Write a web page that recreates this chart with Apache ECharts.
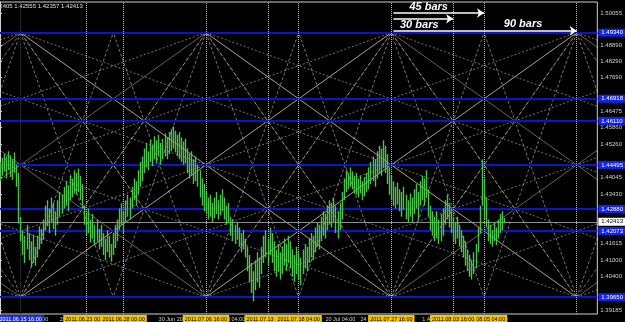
<!DOCTYPE html>
<html>
<head>
<meta charset="utf-8">
<script src="https://cdn.jsdelivr.net/npm/echarts@6/dist/echarts.min.js"></script>
<style>
  html, body { margin: 0; background: #000; }
  #gann { width: 625px; height: 322px; }
</style>
</head>
<body>
<div id="gann"></div>
<script>
// EURUSD H4 bars, high / low per bar
const highs = [
  1.4460,1.4475,1.4490,1.4480,1.4500,1.4485,1.4470,1.4495,1.4450,1.4420,
  1.4260,1.4210,1.4190,1.4230,1.4200,1.4170,1.4195,1.4150,1.4190,1.4225,
  1.4215,1.4250,1.4300,1.4320,1.4290,1.4330,1.4310,1.4280,1.4320,1.4350,
  1.4340,1.4370,1.4390,1.4375,1.4410,1.4400,1.4430,1.4420,1.4436,1.4410,
  1.4380,1.4300,1.4270,1.4290,1.4250,1.4270,1.4230,1.4250,1.4215,1.4230,
  1.4200,1.4180,1.4210,1.4190,1.4160,1.4200,1.4230,1.4250,1.4290,1.4310,
  1.4280,1.4320,1.4340,1.4330,1.4370,1.4400,1.4390,1.4430,1.4460,1.4480,
  1.4510,1.4530,1.4500,1.4540,1.4520,1.4555,1.4540,1.4560,1.4530,1.4545,
  1.4565,1.4550,1.4570,1.4580,1.4590,1.4575,1.4560,1.4570,1.4550,1.4535,
  1.4545,1.4510,1.4490,1.4500,1.4470,1.4480,1.4450,1.4430,1.4400,1.4380,
  1.4350,1.4330,1.4340,1.4310,1.4330,1.4350,1.4320,1.4340,1.4360,1.4330,
  1.4300,1.4310,1.4260,1.4250,1.4230,1.4240,1.4220,1.4200,1.4210,1.4180,
  1.4150,1.4120,1.4090,1.4060,1.4100,1.4130,1.4110,1.4150,1.4190,1.4210,
  1.4180,1.4220,1.4200,1.4170,1.4140,1.4160,1.4130,1.4150,1.4180,1.4160,
  1.4190,1.4170,1.4140,1.4120,1.4150,1.4130,1.4110,1.4140,1.4160,1.4150,
  1.4180,1.4200,1.4190,1.4220,1.4240,1.4230,1.4260,1.4280,1.4270,1.4300,
  1.4320,1.4310,1.4330,1.4300,1.4280,1.4310,1.4350,1.4400,1.4430,1.4420,
  1.4440,1.4425,1.4410,1.4420,1.4400,1.4410,1.4390,1.4405,1.4420,1.4440,
  1.4460,1.4480,1.4470,1.4500,1.4520,1.4510,1.4540,1.4520,1.4490,1.4440,
  1.4410,1.4390,1.4370,1.4385,1.4360,1.4350,1.4370,1.4340,1.4320,1.4345,
  1.4330,1.4360,1.4380,1.4350,1.4390,1.4410,1.4400,1.4430,1.4360,1.4300,
  1.4280,1.4260,1.4280,1.4250,1.4270,1.4290,1.4320,1.4340,1.4310,1.4290,
  1.4260,1.4240,1.4260,1.4230,1.4210,1.4190,1.4170,1.4140,1.4120,1.4100,
  1.4130,1.4160,1.4220,1.4300,1.4470,1.4400,1.4330,1.4250,1.4230,1.4210,
  1.4240,1.4220,1.4250,1.4270,1.4280,1.4256
];
const lows = [
  1.4390,1.4410,1.4425,1.4400,1.4430,1.4405,1.4395,1.4420,1.4370,1.4235,
  1.4170,1.4120,1.4090,1.4140,1.4100,1.4075,1.4090,1.4080,1.4110,1.4140,
  1.4160,1.4175,1.4210,1.4225,1.4200,1.4240,1.4215,1.4190,1.4230,1.4260,
  1.4270,1.4290,1.4300,1.4280,1.4320,1.4330,1.4345,1.4340,1.4350,1.4320,
  1.4290,1.4230,1.4190,1.4200,1.4165,1.4180,1.4155,1.4170,1.4140,1.4150,
  1.4120,1.4100,1.4130,1.4110,1.4095,1.4120,1.4145,1.4170,1.4210,1.4230,
  1.4200,1.4240,1.4260,1.4250,1.4290,1.4320,1.4300,1.4340,1.4370,1.4390,
  1.4420,1.4440,1.4430,1.4460,1.4445,1.4470,1.4455,1.4480,1.4450,1.4470,
  1.4480,1.4470,1.4490,1.4500,1.4510,1.4495,1.4480,1.4470,1.4460,1.4450,
  1.4455,1.4420,1.4400,1.4410,1.4380,1.4390,1.4370,1.4330,1.4300,1.4280,
  1.4270,1.4250,1.4260,1.4240,1.4255,1.4270,1.4250,1.4265,1.4280,1.4250,
  1.4230,1.4240,1.4190,1.4170,1.4160,1.4175,1.4150,1.4130,1.4140,1.4110,
  1.4060,1.4020,1.3980,1.3950,1.3990,1.4020,1.4000,1.4050,1.4090,1.4110,
  1.4080,1.4120,1.4090,1.4060,1.4040,1.4060,1.4030,1.4050,1.4080,1.4060,
  1.4090,1.4070,1.4040,1.4020,1.4050,1.4030,1.4010,1.4050,1.4070,1.4060,
  1.4090,1.4110,1.4100,1.4130,1.4150,1.4140,1.4170,1.4190,1.4180,1.4210,
  1.4230,1.4220,1.4240,1.4200,1.4180,1.4210,1.4250,1.4320,1.4350,1.4360,
  1.4370,1.4360,1.4345,1.4340,1.4330,1.4345,1.4320,1.4335,1.4350,1.4360,
  1.4380,1.4390,1.4370,1.4400,1.4420,1.4410,1.4440,1.4420,1.4380,1.4340,
  1.4320,1.4300,1.4290,1.4305,1.4280,1.4260,1.4285,1.4250,1.4240,1.4260,
  1.4240,1.4270,1.4290,1.4250,1.4300,1.4320,1.4300,1.4330,1.4260,1.4210,
  1.4190,1.4170,1.4180,1.4160,1.4170,1.4190,1.4230,1.4250,1.4220,1.4200,
  1.4170,1.4160,1.4180,1.4150,1.4130,1.4110,1.4080,1.4060,1.4040,1.4030,
  1.4050,1.4070,1.4130,1.4200,1.4300,1.4250,1.4220,1.4170,1.4160,1.4150,
  1.4170,1.4155,1.4180,1.4200,1.4210,1.4236
];
const lastPrice = '1.42413';
const ohlcText = '1.42405 1.42555 1.42357 1.42413';

// gann square: pivot columns (bar index), top / bottom of the box
const pivotBars = [10, 100, 190, 280];
const gannTop = 1.4934;
const gannBottom = 1.3965;
const levelFractions = [0, 0.25, 1 / 3, 0.5, 2 / 3, 0.75, 1];
const fanRatios = [0.25, 0.5, 1, 2];

// vertical time lines and their yellow labels (drawn in this order)
const vBars = [10, 42, 60, 100, 130, 145, 190, 235, 220, 280];
const vLabels = ['2011.06.15 16:00', '2011.06.23 00:00', '2011.06.28 00:00', '2011.07.06 16:00',
  '2011.07.13 16:00', '2011.07.18 04:00', '2011.07.27 16:00', '2011.08.05 04:00', '2011.08.03 16:00', ''];

// time axis ticks
const timeTicks = [8, 29, 54, 77, 106, 136, 158, 175, 205, 232];
const timeLabels = ['16 Jun 04:00', '20 Jun 12:00', '27 Jun 12:00', '30 Jun 20:00', '5 Jul 04:00',
  '12 Jul 20:00', '20 Jul 04:00', '24 Jul 12:00', '1 Aug 04:00', '4 Aug 12:00'];
// price ticks left visible beside the level boxes
const priceTicks = [1.39185, 1.40400, 1.41000, 1.41615, 1.43430, 1.44045,
  1.45260, 1.45860, 1.46475, 1.47690, 1.48290, 1.48890, 1.50055];

// bar-count arrows at the top
const arrowBars = [45, 30, 90];
const arrowPrices = [1.5006, 1.4985, 1.4941];
const arrowTexts = ['45 bars', '30 bars', '90 bars'];

const FONT = 'Liberation Sans';
const khaki = '#d4c898';
const barGreen = '#4cc24c';

const chart = echarts.init(document.getElementById('gann'));

// each price bar as a high-low stroke
const barLines = highs.map((h, i) => ({ coords: [[i, lows[i]], [i, h]] }));

// fan lines from every pivot, both sides, until they reach the other edge of the box
const span = pivotBars[1] - pivotBars[0];
const fanStyles = [
  { color: '#e6e6e6', width: 1, type: [2, 2] },
  { color: khaki, width: 1, type: 'solid' },
  { color: khaki, width: 1, type: [4, 2] },
  { color: '#e6e6e6', width: 1, type: [3, 2] }
];
const fanLines = [];
pivotBars.forEach(pb => {
  [[gannTop, gannBottom], [gannBottom, gannTop]].forEach(([from, to]) => {
    [-1, 1].forEach(dir => {
      fanRatios.forEach((r, k) => {
        fanLines.push({ coords: [[pb, from], [pb + dir * span / r, to]], lineStyle: fanStyles[k] });
      });
    });
  });
});

const levelPrices = levelFractions.map(f => +(gannBottom + f * (gannTop - gannBottom)).toFixed(5));

const option = {
  backgroundColor: '#000',
  animation: false,
  grid: { left: 0, right: 20, top: 2, bottom: 6, show: true, borderColor: '#d0d0d0', borderWidth: 1 },
  xAxis: {
    type: 'value', min: 0, max: 290,
    axisLine: { show: false },
    axisTick: { show: false },
    splitLine: { show: false },
    axisLabel: {
      customValues: timeTicks,
      formatter: v => timeLabels[timeTicks.indexOf(v)] || '',
      color: '#d0d0d0', fontSize: 5.5, fontFamily: FONT, align: 'left', margin: 2
    }
  },
  yAxis: {
    type: 'value', position: 'right', min: 1.39034, max: 1.50464, scale: true,
    axisLine: { show: true, lineStyle: { color: '#d0d0d0' } },
    axisTick: { customValues: priceTicks, length: 2, lineStyle: { color: '#d0d0d0' } },
    splitLine: { show: false },
    axisLabel: {
      customValues: priceTicks,
      formatter: v => v.toFixed(5),
      color: '#d0d0d0', fontSize: 6, fontFamily: FONT, margin: 3
    }
  },
  graphic: [{
    type: 'text', x: -9, y: 3,
    style: { text: ohlcText, fill: '#e0e0e0', font: '6px ' + FONT }
  }],
  series: [
    {
      // gann levels, current price and vertical time lines
      type: 'line', data: [], silent: true, z: 1,
      markLine: {
        silent: true, symbol: 'none', animation: false, precision: 5,
        data: [
          ...levelPrices.map(p => ({
            yAxis: p,
            lineStyle: { color: '#0c16c8', width: 2, type: 'solid' },
            label: {
              position: 'end', distance: 1, formatter: p.toFixed(5), color: '#fff',
              backgroundColor: '#1424e6', padding: [1, 3], fontSize: 6, fontFamily: FONT
            }
          })),
          {
            yAxis: +lastPrice,
            lineStyle: { color: '#8c8c8c', width: 1, type: 'solid' },
            label: {
              position: 'end', distance: 1, formatter: lastPrice, color: '#000',
              backgroundColor: '#fff', padding: [1, 3], fontSize: 6, fontFamily: FONT
            }
          },
          ...vBars.map((b, i) => ({
            xAxis: b,
            lineStyle: { color: i === 0 ? '#2a3aa8' : '#bdbdbd', width: 1, type: 'dotted' },
            label: {
              show: vLabels[i] !== '', position: 'start', distance: 1, formatter: vLabels[i],
              color: i === 0 ? '#fff' : '#000', backgroundColor: i === 0 ? '#1a2ed8' : '#f2c600',
              padding: [1, 2], fontSize: 5.5, fontFamily: FONT
            }
          }))
        ]
      }
    },
    {
      type: 'lines', coordinateSystem: 'cartesian2d', silent: true, clip: true,
      data: fanLines, z: 3
    },
    {
      type: 'lines', name: 'EURUSD', coordinateSystem: 'cartesian2d', silent: true, clip: true,
      data: barLines, z: 10,
      lineStyle: { color: barGreen, width: 1.4, opacity: 1 }
    },
    {
      // bar-count arrows
      type: 'line', data: [], silent: true, z: 12,
      markLine: {
        silent: true, animation: false, precision: 5,
        symbol: ['none', 'arrow'], symbolSize: [7, 7],
        lineStyle: { color: '#fff', width: 1.5, type: 'solid' },
        data: arrowBars.map((n, i) => [
          {
            coord: [pivotBars[2] + 1, arrowPrices[i]],
            label: {
              show: true, formatter: arrowTexts[i], color: '#fff',
              fontSize: 11, fontStyle: 'italic', fontWeight: 'bold', fontFamily: FONT,
              position: i === 1 ? 'insideMiddleBottom' : 'insideMiddleTop',
              distance: 1,
              offset: i === 0 ? [-10, 0] : (i === 2 ? [38, 0] : [-4, 0])
            }
          },
          { coord: [pivotBars[2] + n, arrowPrices[i]] }
        ])
      }
    }
  ]
};

chart.setOption(option);
</script>
</body>
</html>
